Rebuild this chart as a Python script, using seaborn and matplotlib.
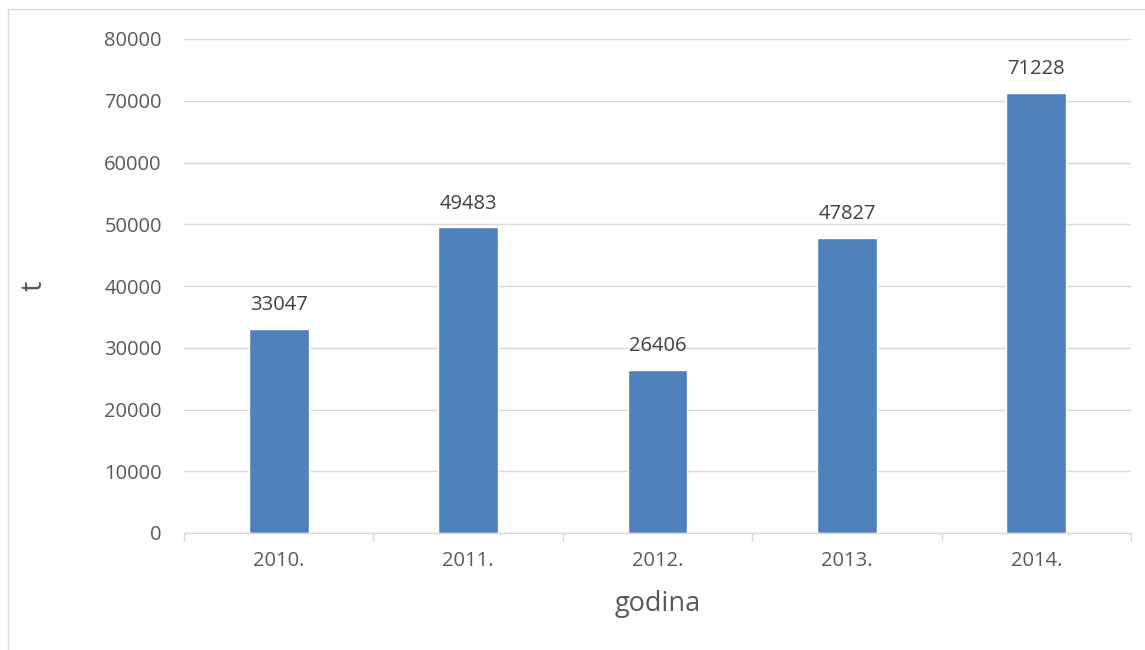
import pandas as pd
import matplotlib.pyplot as plt
import seaborn as sns
from matplotlib.lines import Line2D

# Podaci
godine = ['2010.', '2011.', '2012.', '2013.', '2014.']
kolicine = [33047, 49483, 26406, 47827, 71228]

df = pd.DataFrame({'godina': godine, 't': kolicine})

sns.set_style('white')
plt.rcParams['font.family'] = ['Open Sans', 'DejaVu Sans']

fig = plt.figure(figsize=(11.45, 6.5), dpi=100)
ax = fig.add_axes([0.1607, 0.18, 0.9878 - 0.1607, 0.94 - 0.18])

sns.barplot(data=df, x='godina', y='t', color='#4F81BD', saturation=1,
            width=0.316, ax=ax)

# oznake vrijednosti iznad stupaca
for cont in ax.containers:
    ax.bar_label(cont, padding=10, fontsize=14.5, color='#404040')

ax.set_ylim(0, 80000)
ax.set_yticks(range(0, 80001, 10000))
ax.set_xlim(-0.5, 4.5)
ax.yaxis.grid(True, color='#D9D9D9', linewidth=1)
ax.set_axisbelow(True)

for s in ['top', 'right', 'left']:
    ax.spines[s].set_visible(False)
ax.spines['bottom'].set_color('#D9D9D9')
ax.spines['bottom'].set_linewidth(1)

ax.set_xticks([x - 0.5 for x in range(6)], minor=True)
ax.tick_params(axis='x', which='minor', bottom=True, length=6, color='#D9D9D9', width=1)
ax.tick_params(axis='x', which='major', length=0, pad=13, labelsize=14.5, labelcolor='#595959')
ax.tick_params(axis='y', length=0, pad=16, labelsize=14.5, labelcolor='#595959')

ax.set_xlabel('godina', fontsize=19.5, color='#595959', labelpad=14)
ax.set_ylabel('t', fontsize=21, color='#595959', labelpad=40)

# okvir grafikona (lijevo i gore)
fig.add_artist(Line2D([8 / 1145, 8 / 1145], [0, 1 - 9 / 650], transform=fig.transFigure, color='#D9D9D9', lw=1))
fig.add_artist(Line2D([8 / 1145, 1], [1 - 9 / 650, 1 - 9 / 650], transform=fig.transFigure, color='#D9D9D9', lw=1))

fig.savefig('out.png', dpi=100)
